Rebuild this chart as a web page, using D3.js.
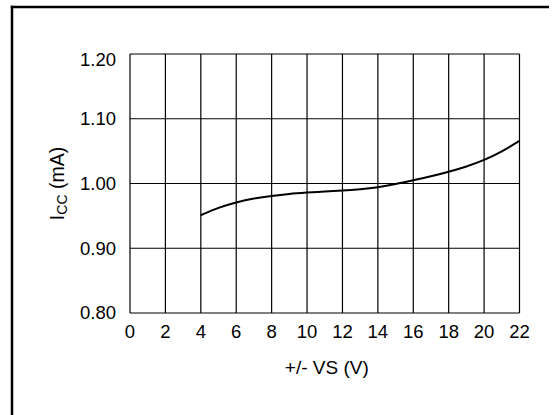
<!DOCTYPE html>
<html>
<head>
<meta charset="utf-8">
<script src="https://cdn.jsdelivr.net/npm/d3@7/dist/d3.min.js"></script>
<style>
  html, body { margin: 0; padding: 0; background: #fff; overflow: hidden; }
  svg { display: block; }
  text { font-family: "Liberation Sans", Arial, sans-serif; fill: #000; }
</style>
</head>
<body>
<div id="chart"></div>
<script>
'use strict';

// supply voltage (+/- VS, volts) and supply current (mA)
var vs = [4, 5, 6, 7, 8, 9, 10, 11, 12, 13, 14, 15, 16, 17, 18, 19, 20, 21, 22];
var icc = [0.951, 0.963, 0.971, 0.977, 0.981, 0.984, 0.986, 0.988, 0.989, 0.991, 0.994, 0.999,
           1.005, 1.011, 1.018, 1.026, 1.036, 1.049, 1.066];

var xTicks = [0, 2, 4, 6, 8, 10, 12, 14, 16, 18, 20, 22];
var yTicks = [0.80, 0.90, 1.00, 1.10, 1.20];

var width = 552;
var height = 415;
var margin = {left: 130, top: 54, right: 32.5, bottom: 102};

var svg = d3.select('#chart')
    .append('svg')
        .attr('width', width)
        .attr('height', height);

// outer frame: only its left and top edges fall inside the picture
svg.append('line')
    .attr('x1', 12).attr('x2', 12)
    .attr('y1', 5.75).attr('y2', height)
    .style('stroke', '#000')
    .style('stroke-width', 2.5);
svg.append('line')
    .attr('x1', 10.75).attr('x2', width - 3)
    .attr('y1', 7).attr('y2', 7)
    .style('stroke', '#000')
    .style('stroke-width', 2.5);

var x = d3.scaleLinear()
    .domain([0, 22])
    .range([margin.left, width - margin.right]);

var y = d3.scaleLinear()
    .domain([0.80, 1.20])
    .range([height - margin.bottom, margin.top]);

var grid = svg.append('g');

grid.selectAll('line.v')
    .data(xTicks)
    .enter()
    .append('line')
    .attr('class', 'v')
    .attr('x1', d => x(d))
    .attr('x2', d => x(d))
    .attr('y1', y(0.80))
    .attr('y2', y(1.20))
    .style('stroke', '#000')
    .style('stroke-width', 1.2);

grid.selectAll('line.h')
    .data(yTicks)
    .enter()
    .append('line')
    .attr('class', 'h')
    .attr('x1', x(0))
    .attr('x2', x(22))
    .attr('y1', d => y(d))
    .attr('y2', d => y(d))
    .style('stroke', '#000')
    .style('stroke-width', 1.2);

var line = d3.line()
    .x((d, i) => x(vs[i]))
    .y(d => y(d))
    .curve(d3.curveBasis);

svg.append('path')
    .datum(icc)
    .attr('d', line)
    .style('fill', 'none')
    .style('stroke', '#000')
    .style('stroke-width', 2);

svg.selectAll('text.ytick')
    .data(yTicks)
    .enter()
    .append('text')
    .attr('class', 'ytick')
    .attr('x', 116)
    .attr('y', d => y(d) + (d === 1.20 ? 6 : 0))
    .attr('dy', '0.35em')
    .attr('text-anchor', 'end')
    .style('font-size', '18.5px')
    .text(d => d.toFixed(2));

svg.selectAll('text.xtick')
    .data(xTicks)
    .enter()
    .append('text')
    .attr('class', 'xtick')
    .attr('x', d => x(d))
    .attr('y', 332)
    .attr('dy', '0.35em')
    .attr('text-anchor', 'middle')
    .style('font-size', '18.5px')
    .text(d => d);

svg.append('text')
    .attr('x', (x(0) + x(22)) / 2 + 2)
    .attr('y', 367)
    .attr('dy', '0.35em')
    .attr('text-anchor', 'middle')
    .style('font-size', '19px')
    .text('+/- VS (V)');

var ytitle = svg.append('text')
    .attr('transform', 'translate(64,' + y(1.00) + ') rotate(-90)')
    .attr('text-anchor', 'middle')
    .style('font-size', '19.5px');
ytitle.append('tspan').text('I');
ytitle.append('tspan')
    .attr('dy', 3)
    .style('font-size', '14px')
    .text('CC');
ytitle.append('tspan')
    .attr('dy', -3)
    .text(' (mA)');
</script>
</body>
</html>
